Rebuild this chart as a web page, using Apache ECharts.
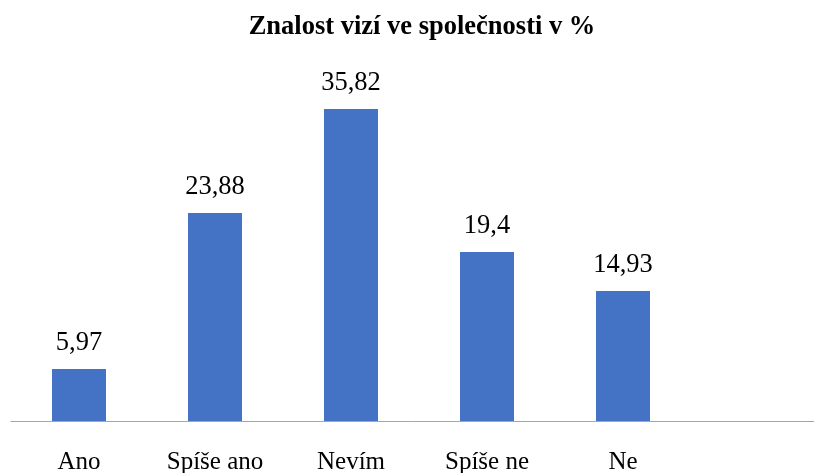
<!DOCTYPE html>
<html>
<head>
<meta charset="utf-8">
<script src="https://cdn.jsdelivr.net/npm/echarts@6/dist/echarts.min.js"></script>
<style>
	html, body { margin: 0; padding: 0; background: #fff; }
	#chart { width: 814px; height: 473px; }
</style>
</head>
<body>
<div id="chart"></div>
<script>
	// 数据
	const categories = ['Ano', 'Spíše ano', 'Nevím', 'Spíše ne', 'Ne', '']
	const values = [5.97, 23.88, 35.82, 19.4, 14.93, null]
	const valueLabels = ['5,97', '23,88', '35,82', '19,4', '14,93', '']

	const myChart = echarts.init(document.getElementById('chart'))
	myChart.setOption({
		animation: false,
		title: {
			text: 'Znalost vizí ve společnosti v %',
			left: 417,
			textAlign: 'center',
			top: 9,
			textStyle: {
				fontFamily: 'Liberation Serif',
				fontWeight: 'bold',
				fontSize: 26.5,
				color: '#000'
			}
		},
		// 第6个空类目，网格超出画布右边
		grid: {
			left: 11,
			width: 816,
			top: 72.6,
			bottom: 52,
			containLabel: false,
			outerBoundsMode: 'none'
		},
		xAxis: {
			type: 'category',
			data: categories,
			axisLine: { lineStyle: { color: '#A6A6A6', width: 1 } },
			axisTick: { show: false },
			axisLabel: {
				margin: 29,
				fontFamily: 'Liberation Serif',
				fontSize: 25,
				color: '#000',
				interval: 0
			}
		},
		yAxis: {
			type: 'value',
			min: 0,
			max: 40,
			show: false,
			splitLine: { show: false }
		},
		series: [{
			type: 'bar',
			data: values,
			barWidth: 54,
			itemStyle: { color: '#4472C4' },
			label: {
				show: true,
				position: 'top',
				distance: 12,
				fontFamily: 'Liberation Serif',
				fontSize: 26.5,
				color: '#000',
				formatter: function (p) { return valueLabels[p.dataIndex] }
			}
		}]
	})
	window.addEventListener('resize', function () {
		myChart.resize()
	})
</script>
</body>
</html>
